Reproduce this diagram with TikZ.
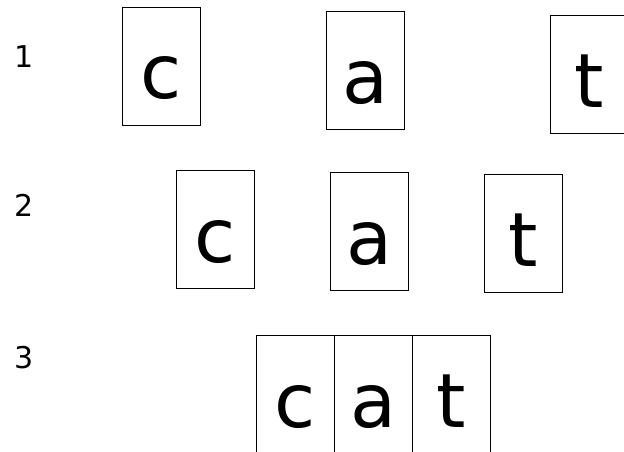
\documentclass[tikz,border=0pt]{standalone}
\usepackage{fontspec}
\setmainfont{DejaVu Sans}
\begin{document}
\begin{tikzpicture}[x=1pt,y=-1pt,
  letterbox/.style={draw=black,line width=1pt,minimum width=78pt,minimum height=118pt,inner sep=0pt,anchor=north west},
  glyph/.style={anchor=base,inner sep=0pt,font=\fontsize{75}{75}\selectfont},
  rowlabel/.style={anchor=base,inner sep=0pt,font=\fontsize{30}{30}\selectfont}]
\useasboundingbox (0,0) rectangle (624,452);
\node[rowlabel] (l1) at (24,68) {1};
\node[rowlabel] (l2) at (24,216) {2};
\node[rowlabel] (l3) at (24,368) {3};
% row 1
\node[letterbox] (b1c) at (122,7) {};
\node[letterbox] (b1a) at (326,11) {};
\node[letterbox] (b1t) at (550,15) {};
% row 2
\node[letterbox] (b2c) at (176,170) {};
\node[letterbox] (b2a) at (330,172) {};
\node[letterbox] (b2t) at (484,174) {};
% row 3
\node[letterbox] (b3c) at (256,335) {};
\node[letterbox] (b3a) at (334,335) {};
\node[letterbox] (b3t) at (412,335) {};
\foreach \b/\ch in {b1c/c,b1a/a,b1t/t,b2c/c,b2a/a,b2t/t,b3c/c,b3a/a,b3t/t}{
  \node[glyph] (g\b) at ([yshift=-92pt]\b.north) {\ch};
}
\end{tikzpicture}
\end{document}
